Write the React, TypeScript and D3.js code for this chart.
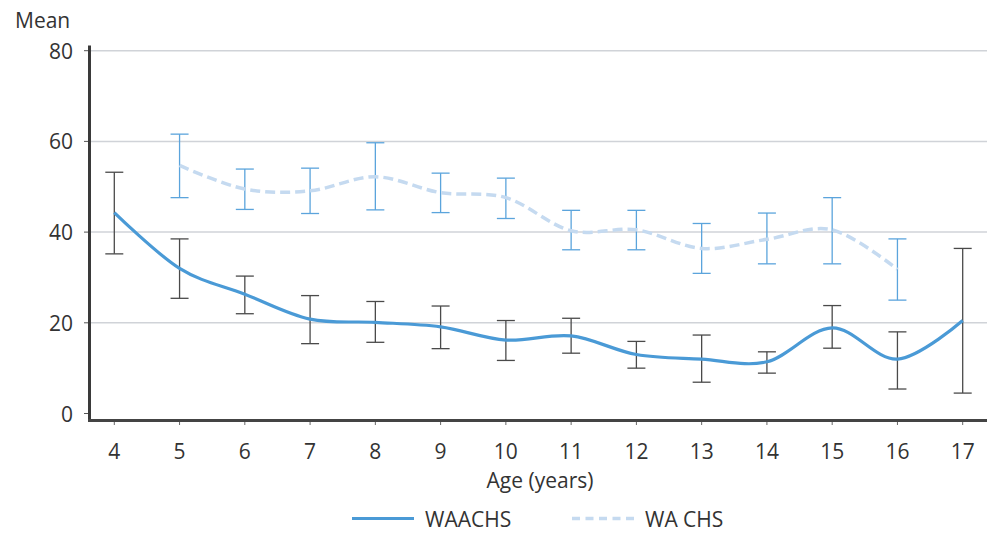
import React from "react";
import * as d3 from "d3";

const ages = [4, 5, 6, 7, 8, 9, 10, 11, 12, 13, 14, 15, 16, 17];
const waachsMean = [44.3, 32.0, 26.3, 20.8, 20.1, 19.1, 16.2, 17.1, 13.0, 12.0, 11.4, 18.9, 12.0, 20.5];
const waachsUpper = [53.2, 38.5, 30.3, 26.0, 24.7, 23.7, 20.5, 21.0, 15.9, 17.3, 13.6, 23.8, 18.0, 36.4];
const waachsLower = [35.2, 25.4, 22.0, 15.4, 15.7, 14.3, 11.7, 13.3, 10.0, 6.9, 8.9, 14.4, 5.4, 4.5];

const wachsAges = [5, 6, 7, 8, 9, 10, 11, 12, 13, 14, 15, 16];
const wachsMean = [54.7, 49.5, 49.1, 52.2, 48.7, 47.6, 40.3, 40.5, 36.4, 38.4, 40.5, 31.8];
const wachsUpper = [61.6, 53.9, 54.1, 59.7, 53.0, 51.9, 44.8, 44.8, 41.9, 44.2, 47.6, 38.5];
const wachsLower = [47.6, 45.0, 44.1, 44.9, 44.3, 43.0, 36.1, 36.1, 30.9, 33.0, 33.0, 25.0];

const yTicks = [0, 20, 40, 60, 80];
const seriesNames = ["WAACHS", "WA CHS"];

const W = 989;
const H = 533;
const FONT = "'Open Sans', sans-serif";
const TEXT = "#333333";

export default function App() {
  const x = d3.scaleLinear().domain([4, 17]).range([114.3, 962.7]);
  const y = d3.scaleLinear().domain([0, 80]).range([413.5, 50.7]);

  const line = d3
    .line<[number, number]>()
    .x((d) => x(d[0]))
    .y((d) => y(d[1]))
    .curve(d3.curveCardinal.tension(0));

  const waPts: [number, number][] = ages.map((a, i) => [a, waachsMean[i]]);
  const chsPts: [number, number][] = wachsAges.map((a, i) => [a, wachsMean[i]]);
  const cap = 9;

  return (
    <div style={{ position: "absolute", left: 0, top: 0 }}>
      <svg width={W} height={H} style={{ display: "block" }}>
        <rect width={W} height={H} fill="#ffffff" />
        {/* gridlines */}
        {yTicks.filter((t) => t > 0).map((t) => (
          <line key={"g" + t} x1={89} x2={987} y1={y(t)} y2={y(t)} stroke="#d0d3d8" strokeWidth={1.5} />
        ))}
        {/* y ticks */}
        {yTicks.map((t) => (
          <g key={"y" + t}>
            <line x1={84} x2={89} y1={y(t)} y2={y(t)} stroke="#555" strokeWidth={1} />
            <text x={73} y={y(t)} textAnchor="end" dominantBaseline="central" fontFamily={FONT} fontSize={21} fill={TEXT}>
              {t}
            </text>
          </g>
        ))}
        {/* x ticks */}
        {ages.map((a) => (
          <g key={"x" + a}>
            <line x1={x(a)} x2={x(a)} y1={420} y2={425} stroke="#666" strokeWidth={1} />
            <text x={x(a)} y={451} textAnchor="middle" dominantBaseline="central" fontFamily={FONT} fontSize={21} fill={TEXT}>
              {a}
            </text>
          </g>
        ))}
        {/* axes */}
        <line x1={89.5} x2={89.5} y1={45.5} y2={421.5} stroke="#3a3a3a" strokeWidth={3} />
        <line x1={88} x2={987} y1={420.5} y2={420.5} stroke="#444" strokeWidth={3} />

        {/* error bars WAACHS */}
        {ages.map((a, i) => (
          <g key={"ea" + a} stroke="#4a4a4a" strokeWidth={1.3}>
            <line x1={x(a)} x2={x(a)} y1={y(waachsUpper[i])} y2={y(waachsLower[i])} />
            <line x1={x(a) - cap} x2={x(a) + cap} y1={y(waachsUpper[i])} y2={y(waachsUpper[i])} />
            <line x1={x(a) - cap} x2={x(a) + cap} y1={y(waachsLower[i])} y2={y(waachsLower[i])} />
          </g>
        ))}
        {/* error bars WA CHS */}
        {wachsAges.map((a, i) => (
          <g key={"eb" + a} stroke="#5ba4dc" strokeWidth={1.3}>
            <line x1={x(a)} x2={x(a)} y1={y(wachsUpper[i])} y2={y(wachsLower[i])} />
            <line x1={x(a) - cap} x2={x(a) + cap} y1={y(wachsUpper[i])} y2={y(wachsUpper[i])} />
            <line x1={x(a) - cap} x2={x(a) + cap} y1={y(wachsLower[i])} y2={y(wachsLower[i])} />
          </g>
        ))}

        {/* lines */}
        <path d={line(chsPts) || ""} fill="none" stroke="#c5daf0" strokeWidth={3.5} strokeDasharray="10,5" />
        <path d={line(waPts) || ""} fill="none" stroke="#4a9ad6" strokeWidth={3.2} />

        {/* axis titles */}
        <text x={15} y={20} dominantBaseline="central" fontFamily={FONT} fontSize={21} fill={TEXT}>
          Mean
        </text>
        <text x={540} y={480} textAnchor="middle" dominantBaseline="central" fontFamily={FONT} fontSize={21} fill={TEXT}>
          Age (years)
        </text>

        {/* legend */}
        <line x1={352} x2={414} y1={518.5} y2={518.5} stroke="#4a9ad6" strokeWidth={3.2} />
        <text x={425} y={519} dominantBaseline="central" fontFamily={FONT} fontSize={21} fill={TEXT}>
          {seriesNames[0]}
        </text>
        <line x1={572} x2={634} y1={518.5} y2={518.5} stroke="#c5daf0" strokeWidth={3.5} strokeDasharray="8,5.5" />
        <text x={645} y={519} dominantBaseline="central" fontFamily={FONT} fontSize={21} fill={TEXT}>
          {seriesNames[1]}
        </text>
      </svg>
    </div>
  );
}
